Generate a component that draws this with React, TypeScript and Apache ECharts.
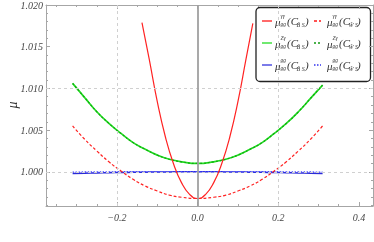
import React, { useEffect, useRef } from "react";
import * as echarts from "echarts";

// ---- data ----
const xWide = [-0.31, -0.28, -0.25, -0.22, -0.19, -0.16, -0.13, -0.1, -0.07, -0.04, 0, 0.04, 0.07, 0.1, 0.13, 0.16, 0.19, 0.22, 0.25, 0.28, 0.31];
const xNarrow = [-0.138, -0.12, -0.1, -0.08, -0.06, -0.04, -0.02, 0, 0.02, 0.04, 0.06, 0.08, 0.1, 0.12, 0.137];

const yGammaBS = [1.0179, 1.0135, 1.0084, 1.0042, 1.001, 0.9987, 0.9973, 0.9968, 0.9973, 0.9987, 1.001, 1.0042, 1.0084, 1.0135, 1.0178];
const yGammaWS = [1.0055, 1.0039, 1.0025, 1.0012, 1.0001, 0.9991, 0.9983, 0.9977, 0.9972, 0.99695, 0.9968, 0.99695, 0.9972, 0.9977, 0.9983, 0.9991, 1.0001, 1.0012, 1.0025, 1.0039, 1.0055];
const yZgBS = [1.0106, 1.0089, 1.0072, 1.0058, 1.0046, 1.0035, 1.0027, 1.002, 1.0015, 1.0012, 1.001, 1.0012, 1.0015, 1.002, 1.0027, 1.0035, 1.0046, 1.0058, 1.0072, 1.0088, 1.0104];
const yZgWS = [1.0106, 1.0089, 1.0072, 1.0058, 1.0046, 1.0035, 1.0027, 1.002, 1.0015, 1.0012, 1.001, 1.0012, 1.0015, 1.002, 1.0027, 1.0035, 1.0046, 1.0058, 1.0072, 1.0088, 1.0104];
const yGgBS = [0.9998, 0.99983, 0.99986, 0.99989, 0.99992, 0.99994, 0.99996, 0.99998, 0.99999, 1.0, 1.0, 1.0, 0.99999, 0.99998, 0.99996, 0.99994, 0.99992, 0.99989, 0.99986, 0.99983, 0.9998];
const yGgWS = [0.99996, 0.99997, 0.99998, 0.99999, 1.0, 1.0, 1.00001, 1.00001, 1.00002, 1.00002, 1.00002, 1.00002, 1.00002, 1.00001, 1.00001, 1.0, 1.0, 0.99999, 0.99998, 0.99997, 0.99996];

const xMin = -0.376;
const xMax = 0.435;
const yMin = 0.9959;
const yMax = 1.02;

const xLabelTicks = [-0.2, 0, 0.2, 0.4];
const xMinorTicks = [-0.35, -0.3, -0.25, -0.15, -0.1, -0.05, 0.05, 0.1, 0.15, 0.25, 0.3, 0.35];
const yLabelTicks = [1.0, 1.005, 1.01, 1.015, 1.02];
const yMinorTicks = [0.996, 0.997, 0.998, 0.999, 1.001, 1.002, 1.003, 1.004, 1.006, 1.007, 1.008, 1.009, 1.011, 1.012, 1.013, 1.014, 1.016, 1.017, 1.018, 1.019];
const xGridValues = [-0.2, 0.2];
const yGridValues = [1.0, 1.005, 1.01, 1.015];
const yAxisTitle = "\u03bc";

const zip = (xs: number[], ys: number[]) => xs.map((x, i) => [x, ys[i]]);

const FRAME = "#a6a6a6";
const LABEL_FONT = "'Liberation Serif', 'DejaVu Serif', serif";

function xAxisDef(position: "bottom" | "top", ticks: number[], len: number, showLine: boolean, labels: boolean) {
  return {
    type: "value",
    position,
    min: xMin,
    max: xMax,
    axisLine: { show: showLine, onZero: false, lineStyle: { color: FRAME, width: 1 } },
    axisTick: { show: true, inside: true, length: len, customValues: ticks, lineStyle: { color: FRAME, width: 1 } },
    axisLabel: labels
      ? {
          show: true,
          customValues: xLabelTicks,
          formatter: (v: number) => (v < 0 ? "\u2212" + Math.abs(v).toFixed(1) : v.toFixed(1)),
          fontFamily: LABEL_FONT,
          fontStyle: "italic",
          fontSize: 10,
          color: "#444",
          margin: 6,
        }
      : { show: false },
    splitLine: { show: false },
  };
}

function yAxisDef(position: "left" | "right", ticks: number[], len: number, showLine: boolean, labels: boolean) {
  return {
    type: "value",
    position,
    min: yMin,
    max: yMax,
    axisLine: { show: showLine, onZero: false, lineStyle: { color: FRAME, width: 1 } },
    axisTick: { show: true, inside: true, length: len, customValues: ticks, lineStyle: { color: FRAME, width: 1 } },
    axisLabel: labels
      ? {
          show: true,
          customValues: yLabelTicks,
          showMaxLabel: true,
          formatter: (v: number) => v.toFixed(3),
          fontFamily: LABEL_FONT,
          fontStyle: "italic",
          fontSize: 10,
          color: "#444",
          margin: 3,
        }
      : { show: false },
    splitLine: { show: false },
  };
}

// legend built from graphic elements
const legendRows = [
  { sup: "\u03b3\u03b3", colA: "#ff1a1a", colB: "#ff1a1a", typeB: [3, 2] },
  { sup: "Z\u03b3", colA: "#22dd22", colB: "#119911", typeB: [2, 2] },
  { sup: "gg", colA: "#3333dd", colB: "#3333ee", typeB: [1.5, 1.5] },
];

function legendEntry(xLine: number, xText: number, y: number, sup: string, sub: string, color: string, dash: any) {
  const tf = { fontFamily: LABEL_FONT, fontStyle: "italic", fill: "#333" } as any;
  return [
    { type: "line", shape: { x1: xLine, y1: y, x2: xLine + (dash ? 7 : 10), y2: y }, style: { stroke: color, lineWidth: 1.3, lineDash: dash || undefined } },
    { type: "text", x: xText, y: y + 1, style: { ...tf, text: "\u03bc", fontSize: 11, verticalAlign: "middle" } },
    { type: "text", x: xText + 5.5, y: y - 5, style: { ...tf, text: sup, fontSize: 5.5, verticalAlign: "middle" } },
    { type: "text", x: xText + 5.5, y: y + 2.5, style: { ...tf, text: "gg", fontSize: 5.5, verticalAlign: "middle" } },
    { type: "text", x: xText + 12, y: y, style: { ...tf, text: "(C", fontSize: 11, verticalAlign: "middle" } },
    { type: "text", x: xText + 21.5, y: y + 3.5, style: { ...tf, text: sub, fontSize: 6, verticalAlign: "middle" } },
    { type: "text", x: xText + 30, y: y, style: { ...tf, text: ")", fontSize: 11, verticalAlign: "middle" } },
  ];
}

export default function App() {
  const ref = useRef<HTMLDivElement>(null);
  useEffect(() => {
    if (!ref.current) return;
    const chart = echarts.init(ref.current, undefined, { renderer: "svg" });
    const rowsY = [21, 43, 65];
    const legendEls: any[] = [
      { type: "rect", shape: { x: 256, y: 7.5, width: 114.5, height: 74, r: 4 }, style: { fill: "#fff", stroke: "#222", lineWidth: 1.3 } },
      {
        type: "text",
        x: 12,
        y: 105,
        rotation: Math.PI / 2,
        style: { text: yAxisTitle, fontFamily: LABEL_FONT, fontStyle: "italic", fontSize: 14, fill: "#333", align: "center", verticalAlign: "middle" },
      },
    ];
    legendRows.forEach((r, i) => {
      legendEls.push(...legendEntry(262, 275, rowsY[i], r.sup, "B\u0303 S", r.colA, null));
      legendEls.push(...legendEntry(314, 327, rowsY[i], r.sup, "W\u0303 S", r.colB, r.typeB));
    });

    const gridLines = [
      ...xGridValues.map((v) => ({ xAxis: v })),
      ...yGridValues.map((v) => ({ yAxis: v })),
    ];

    chart.setOption({
      animation: false,
      grid: { left: 46, right: 1, top: 5, bottom: 36, containLabel: false, outerBoundsMode: "none" },
      xAxis: [
        xAxisDef("bottom", xLabelTicks, 4, true, true),
        xAxisDef("bottom", xMinorTicks, 2, false, false),
        xAxisDef("top", xLabelTicks, 4, true, false),
        xAxisDef("top", xMinorTicks, 2, false, false),
      ],
      yAxis: [
        yAxisDef("left", yLabelTicks, 4, true, true),
        yAxisDef("left", yMinorTicks, 2, false, false),
        yAxisDef("right", yLabelTicks, 4, true, false),
        yAxisDef("right", yMinorTicks, 2, false, false),
      ],
      series: [
        {
          type: "line",
          name: "grid",
          data: [],
          silent: true,
          markLine: {
            silent: true,
            symbol: "none",
            label: { show: false },
            lineStyle: { type: [3, 3], color: "#d0d0d0", width: 1 },
            data: [...gridLines, { xAxis: 0, lineStyle: { type: "solid", color: "#a0a0a0", width: 1.8 } }],
          },
        },
        { type: "line", name: "gg BS", data: zip(xWide, yGgBS), showSymbol: false, smooth: true, lineStyle: { color: "#2a2ad8", width: 1.5 } },
        { type: "line", name: "gg WS", data: zip(xWide, yGgWS), showSymbol: false, smooth: true, lineStyle: { color: "#4a4aff", width: 1.4, type: [1.5, 1.5] } },
        { type: "line", name: "Zg BS", data: zip(xWide, yZgBS), showSymbol: false, smooth: true, lineStyle: { color: "#22dd22", width: 1.7 } },
        { type: "line", name: "Zg WS", data: zip(xWide, yZgWS), showSymbol: false, smooth: true, lineStyle: { color: "#11aa11", width: 1.2, type: [2, 2] } },
        { type: "line", name: "gamma WS", data: zip(xWide, yGammaWS), showSymbol: false, smooth: true, lineStyle: { color: "#ff2222", width: 1.2, type: [3, 2] } },
        { type: "line", name: "gamma BS", data: zip(xNarrow, yGammaBS), showSymbol: false, smooth: true, lineStyle: { color: "#ff2222", width: 1.2 } },
      ],
      graphic: legendEls,
    });
    return () => chart.dispose();
  }, []);
  return <div ref={ref} style={{ position: "fixed", left: 0, top: 0, width: 374, height: 242 }} />;
}
